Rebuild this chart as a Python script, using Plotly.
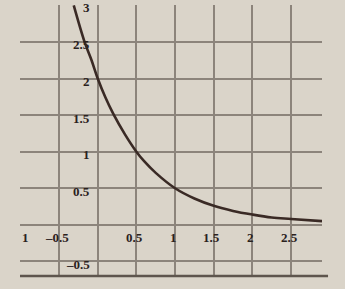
import plotly.graph_objects as go

# Curve points
curve_x = [-0.31, -0.17, -0.08, 0.0, 0.1, 0.2, 0.35, 0.5, 0.6, 0.75, 1.0, 1.25, 1.5, 1.75, 2.0, 2.25, 2.5, 2.9]
curve_y = [3.0, 2.5, 2.25, 2.0, 1.74, 1.52, 1.24, 1.0, 0.87, 0.71, 0.5, 0.36, 0.26, 0.19, 0.14, 0.10, 0.08, 0.05]

# Tick labels as printed on the graph paper
x_label_vals = [-1.0, -0.5, 0.5, 1.0, 1.5, 2.0, 2.5]
x_label_text = ["1", "\u20130.5", "0.5", "1", "1.5", "2", "2.5"]
y_label_vals = [3.0, 2.5, 2.0, 1.5, 1.0, 0.5, -0.5]
y_label_text = ["3", "2.5", "2", "1.5", "1", "0.5", "\u20130.5"]

bg = "#dad4c9"
grid = "#8c847b"
ink = "#2a211d"
font = dict(family="Liberation Serif", size=13, color=ink)

fig = go.Figure()
fig.add_trace(go.Scatter(x=curve_x, y=curve_y, mode="lines",
                         line=dict(color="#3a2a25", width=2.6, shape="spline", smoothing=1.0),
                         hoverinfo="skip", showlegend=False))

annotations = []
for v, t in zip(x_label_vals, x_label_text):
    annotations.append(dict(x=v, y=-0.18, text="<b>%s</b>" % t, showarrow=False,
                            xanchor="left" if v == -1.0 else "center",
                            xshift=0 if v == -1.0 else -2,
                            yanchor="middle", font=font))
for v, t in zip(y_label_vals, y_label_text):
    annotations.append(dict(x=0, y=v, text="<b>%s</b>" % t, showarrow=False,
                            xanchor="right", xshift=-6, yshift=-3 if v != 3.0 else -2,
                            yanchor="middle", font=font))

fig.update_layout(
    width=345, height=289,
    margin=dict(l=20, r=23, t=5, b=13),
    paper_bgcolor=bg, plot_bgcolor=bg,
    showlegend=False,
    annotations=annotations,
    xaxis=dict(range=[-1.005, 2.9], dtick=0.5, tick0=0, showgrid=True,
               gridcolor=grid, gridwidth=1.5, zeroline=True, zerolinecolor=grid,
               zerolinewidth=1.5, showticklabels=False, ticks="", showline=False,
               fixedrange=True),
    yaxis=dict(range=[-0.7, 3.005], dtick=0.5, tick0=0, showgrid=True,
               gridcolor=grid, gridwidth=1.5, zeroline=True, zerolinecolor=grid,
               zerolinewidth=1.5, showticklabels=False, ticks="", showline=False,
               fixedrange=True),
    shapes=[dict(type="line", xref="paper", yref="paper", x0=0, x1=1.02, y0=0, y1=0,
                 line=dict(color="#5e554d", width=2.5))],
)

fig.write_html("out.html", config={"displayModeBar": False})
